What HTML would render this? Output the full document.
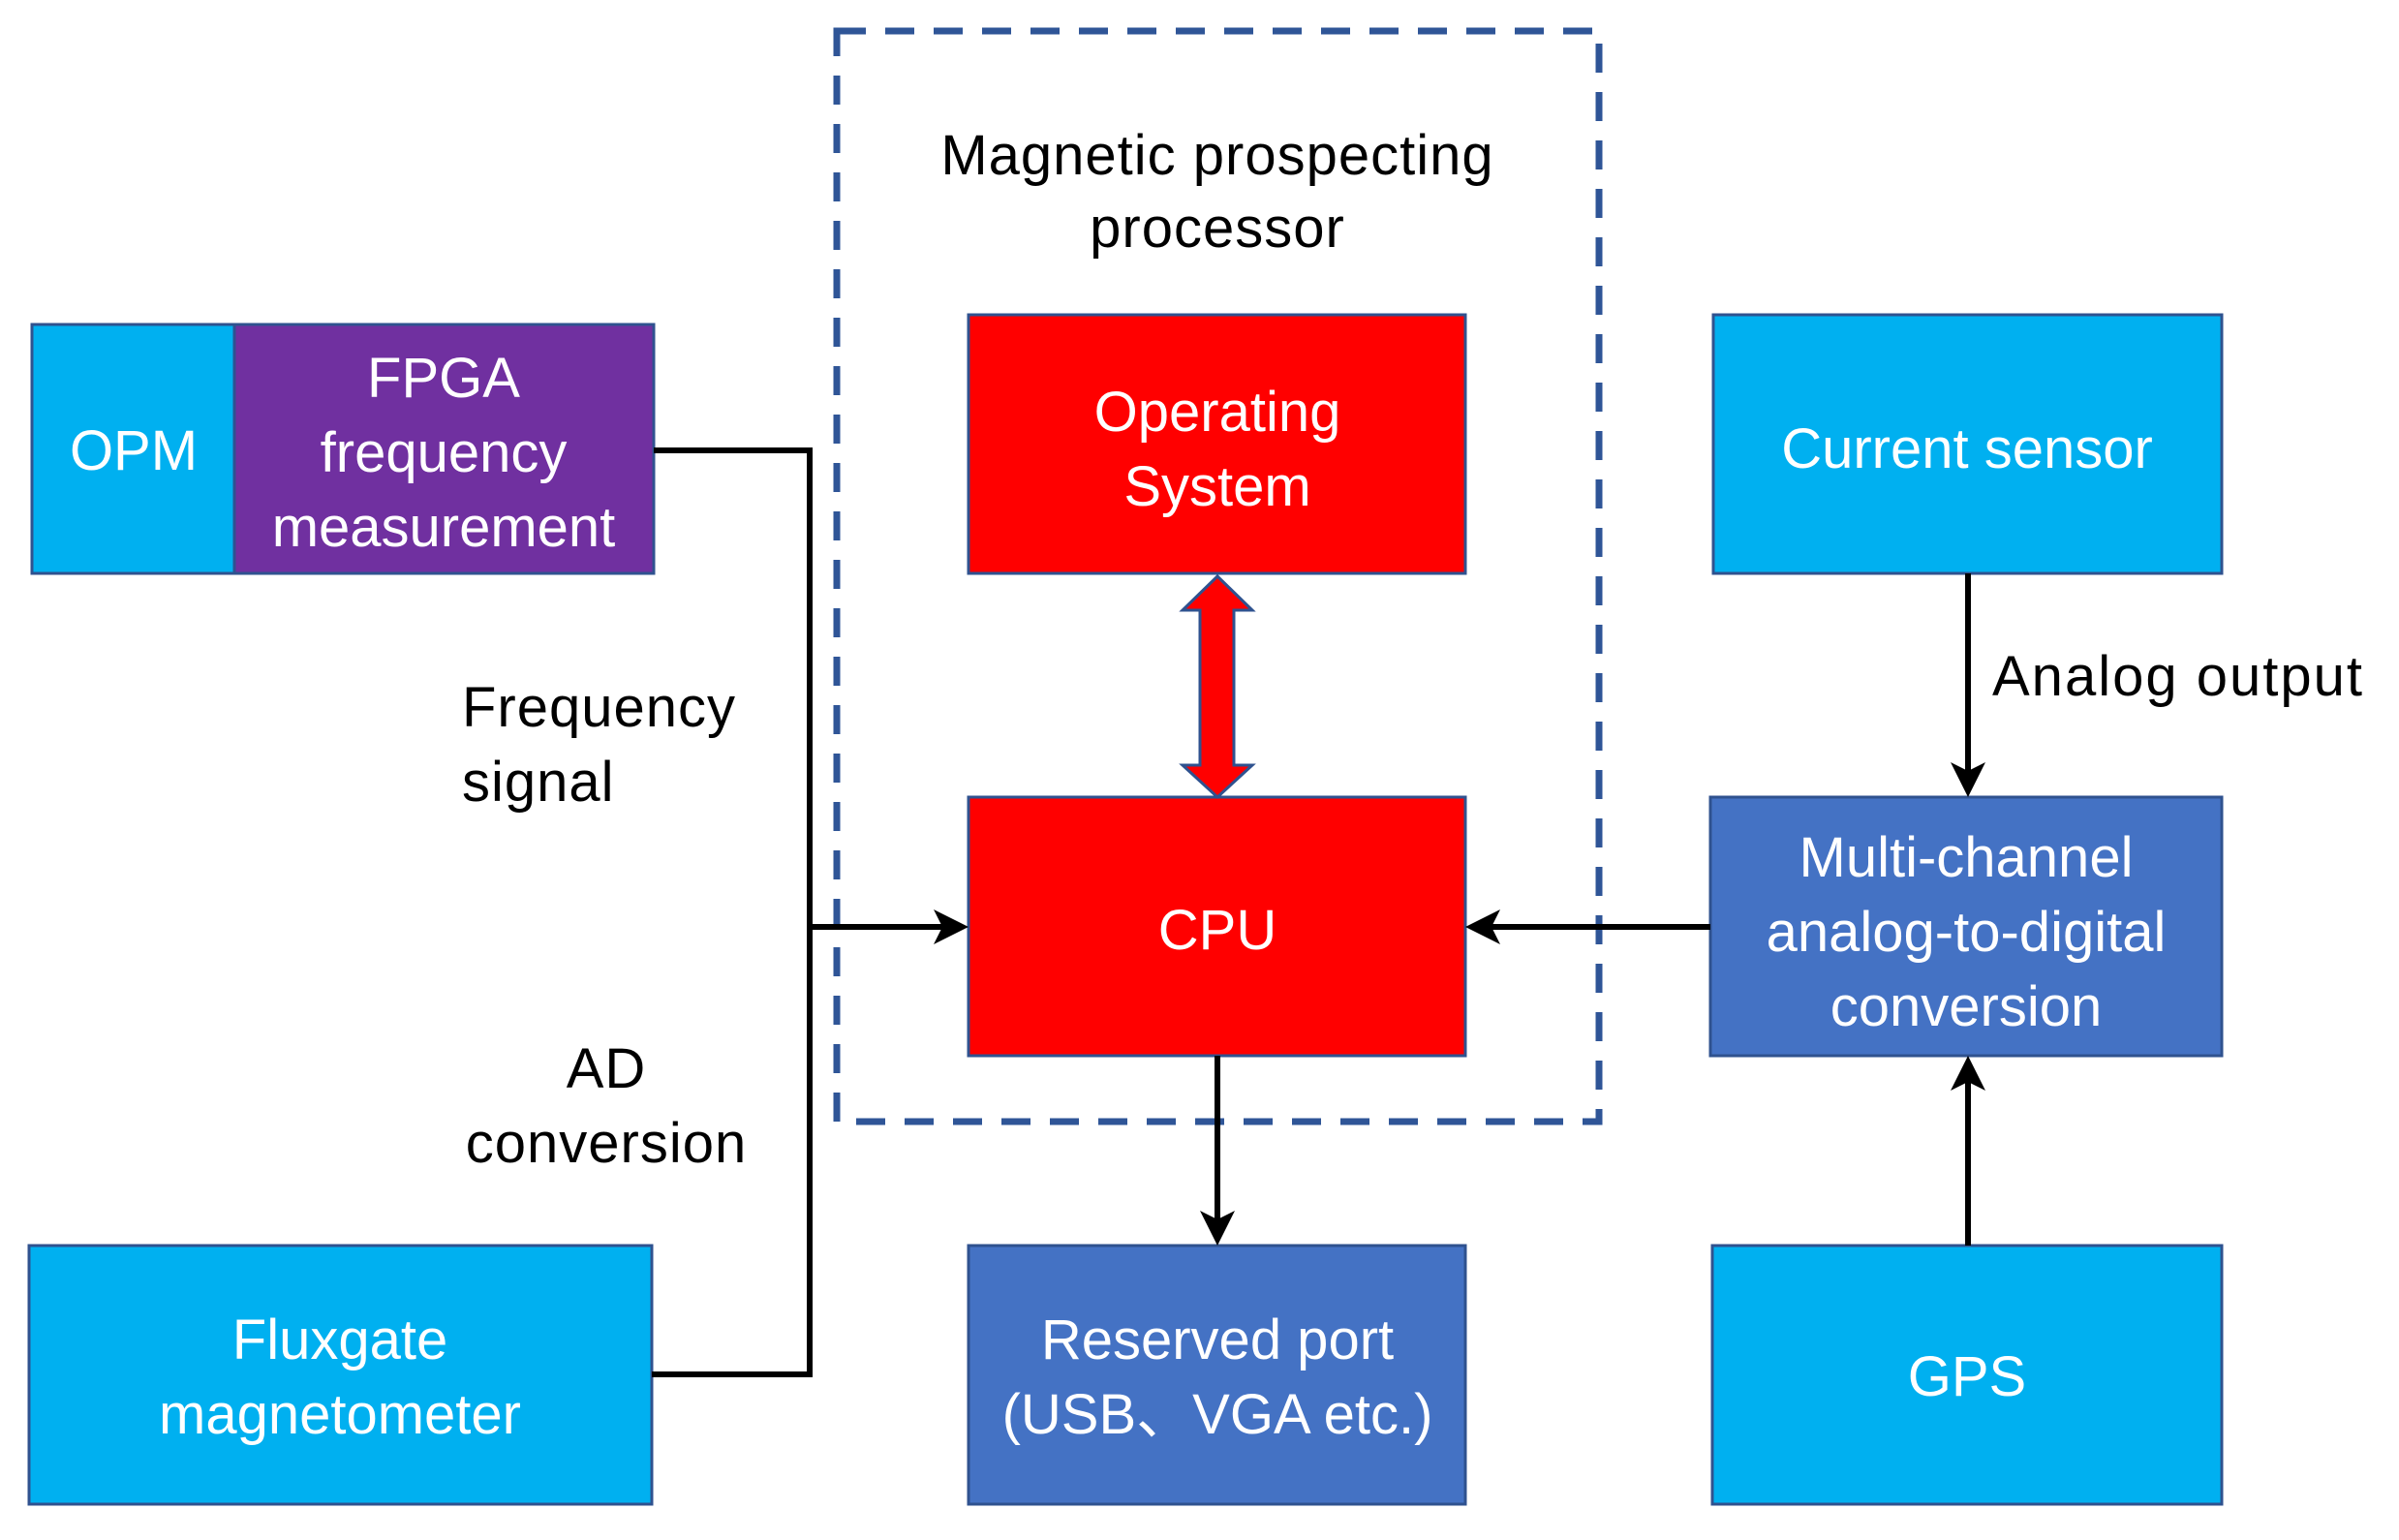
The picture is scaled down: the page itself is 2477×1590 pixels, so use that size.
<!DOCTYPE html>
<html><head><meta charset="utf-8"><style>
html,body{margin:0;padding:0;background:#fff;}
svg{display:block;}
text{font-family:"Liberation Sans","Noto Sans CJK SC",sans-serif;}
</style></head><body>
<svg width="2477" height="1590" viewBox="0 0 2477 1590" xmlns="http://www.w3.org/2000/svg">
<defs>
<marker id="ah" markerWidth="6" markerHeight="6" refX="5" refY="3" orient="auto" markerUnits="strokeWidth">
<path d="M0,0 L6,3 L0,6 L1.5,3 Z" fill="#000"/>
</marker>
</defs>
<rect x="864" y="32" width="787" height="1126" fill="none" stroke="#2F5597" stroke-width="7" stroke-dasharray="30,20"/>
<g font-size="58" fill="#000" text-anchor="middle" letter-spacing="1">
<text x="1257" y="180">Magnetic prospecting</text>
<text x="1257" y="255">processor</text>
</g>
<g stroke="#2F528F" stroke-width="3">
<rect x="33" y="335" width="209" height="257" fill="#00B0F0"/>
<rect x="242" y="335" width="433" height="257" fill="#7030A0"/>
<rect x="1000" y="325" width="513" height="267" fill="#FF0000"/>
<rect x="1000" y="823" width="513" height="267" fill="#FF0000"/>
<rect x="1769" y="325" width="525" height="267" fill="#00B0F0"/>
<rect x="1766" y="823" width="528" height="267" fill="#4472C4"/>
<rect x="30" y="1286" width="643" height="267" fill="#00B0F0"/>
<rect x="1000" y="1286" width="513" height="267" fill="#4472C4"/>
<rect x="1768" y="1286" width="526" height="267" fill="#00B0F0"/>
</g>
<path d="M1257,595 L1293,630 L1274,630 L1274,790 L1293,790 L1257,823 L1221,790 L1239,790 L1239,630 L1221,630 Z" fill="#FF0000" stroke="#2F528F" stroke-width="3"/>
<g stroke="#000" stroke-width="6" fill="none">
<polyline points="675,465 836,465 836,1419 673,1419"/>
<line x1="836" y1="957" x2="994" y2="957" marker-end="url(#ah)"/>
<line x1="1766" y1="957" x2="1519" y2="957" marker-end="url(#ah)"/>
<line x1="1257" y1="1090" x2="1257" y2="1280" marker-end="url(#ah)"/>
<line x1="2032" y1="592" x2="2032" y2="817" marker-end="url(#ah)"/>
<line x1="2032" y1="1286" x2="2032" y2="1096" marker-end="url(#ah)"/>
</g>
<g font-size="58" fill="#fff" text-anchor="middle">
<text x="138" y="485">OPM</text>
<text x="458" y="410">FPGA</text>
<text x="458" y="487">frequency</text>
<text x="458" y="564">measurement</text>
<text x="1257" y="445">Operating</text>
<text x="1257" y="522">System</text>
<text x="1257" y="980">CPU</text>
<text x="2031" y="483">Current sensor</text>
<text x="2030" y="905">Multi-channel</text>
<text x="2030" y="982">analog-to-digital</text>
<text x="2030" y="1059">conversion</text>
<text x="351" y="1403">Fluxgate</text>
<text x="351" y="1480">magnetometer</text>
<text x="1257" y="1403">Reserved port</text>
<text x="1257" y="1480">(USB、VGA etc.)</text>
<text x="2031" y="1441">GPS</text>
</g>
<g font-size="58" fill="#000" letter-spacing="1">
<text x="477" y="750">Frequency</text>
<text x="477" y="827">signal</text>
<text x="626" y="1123" text-anchor="middle">AD</text>
<text x="626" y="1200" text-anchor="middle">conversion</text>
<text x="2057" y="718" letter-spacing="2">Analog output</text>
</g>
</svg>
</body></html>
